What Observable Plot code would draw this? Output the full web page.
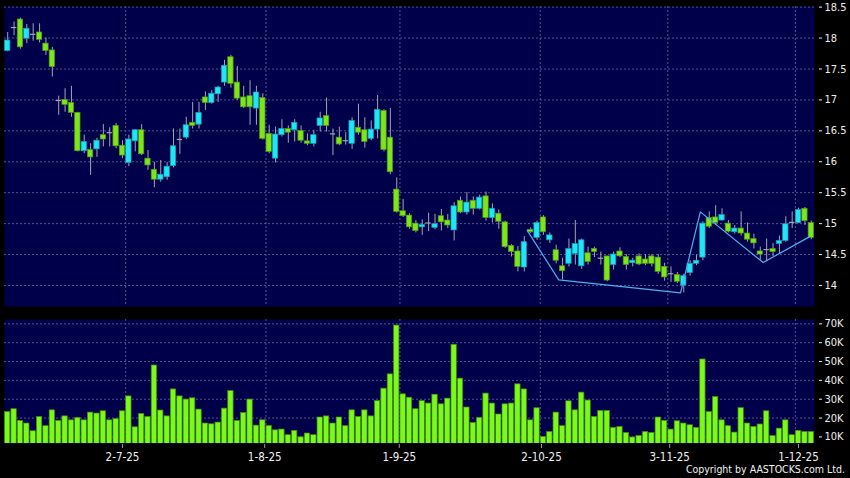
<!DOCTYPE html>
<html><head><meta charset="utf-8">
<script src="https://cdn.jsdelivr.net/npm/d3@7"></script>
<script src="https://cdn.jsdelivr.net/npm/@observablehq/plot@0.6"></script>
<style>
html,body{margin:0;padding:0;background:#000;}
#wrap{position:relative;width:850px;height:478px;background:#000;overflow:hidden;font-family:"DejaVu Sans Condensed","DejaVu Sans",sans-serif;font-stretch:condensed;}
#price{position:absolute;left:0;top:0;}
#vol{position:absolute;left:0;top:312px;}
#copy{position:absolute;right:5px;top:463px;color:#f0f0f0;font-size:10.5px;white-space:nowrap;}
</style></head><body>
<div id="wrap"><div id="price"></div><div id="vol"></div><div id="copy">Copyright by AASTOCKS.com Ltd.</div></div>
<script>
// Daily OHLC (HKD), one entry per trading day, oldest first
const open  = [17.79,18.17,18.30,17.99,18.06,18.09,17.91,17.80,16.99,17.00,16.95,16.79,16.17,16.19,16.20,16.43,16.47,16.58,16.26,15.98,
16.33,16.51,16.05,15.87,15.71,15.75,15.93,16.36,16.39,16.63,16.60,17.04,16.95,17.09,17.28,17.69,17.28,17.04,17.06,16.86,
17.03,16.45,16.05,16.43,16.53,16.51,16.50,16.33,16.29,16.58,16.74,16.45,16.39,16.34,16.29,16.55,16.51,16.37,16.52,16.82,
16.39,15.55,15.20,15.13,15.00,14.94,15.01,14.93,15.12,15.05,14.89,15.37,15.18,15.37,15.24,15.44,15.09,15.16,15.02,14.64,
14.55,14.29,14.90,14.77,15.10,14.73,14.57,14.31,14.35,14.51,14.31,14.52,14.59,14.44,14.47,14.33,14.55,14.46,14.36,14.47,
14.42,14.47,14.45,14.30,14.19,14.17,14.00,14.20,14.35,14.45,15.09,15.10,15.05,15.00,14.86,14.92,14.84,14.75,14.55,14.58,
14.59,14.67,14.72,15.02,15.01,15.24,15.01];
const high  = [18.09,18.26,18.32,18.22,18.23,18.23,18.00,17.85,17.06,17.18,17.22,16.80,16.43,16.29,16.38,16.60,16.55,16.62,16.34,16.43,
16.52,16.60,16.18,15.99,16.02,15.99,16.53,16.53,16.72,16.96,16.96,17.13,17.15,17.22,17.64,17.72,17.54,17.22,17.31,17.22,
17.10,16.59,16.56,16.68,16.58,16.68,16.58,16.45,16.51,16.80,17.03,16.53,16.56,16.47,16.71,16.93,16.71,16.66,17.07,16.84,
16.86,15.74,15.39,15.16,15.05,15.06,15.17,15.15,15.23,15.15,15.34,15.43,15.50,15.43,15.46,15.51,15.32,15.22,15.04,14.66,
14.63,14.79,14.93,15.04,15.13,14.85,14.65,14.44,14.75,15.05,14.75,14.62,14.62,14.54,14.47,14.54,14.61,14.50,14.44,14.51,
14.50,14.50,14.50,14.36,14.30,14.21,14.18,14.40,14.49,15.03,15.19,15.29,15.24,15.05,14.97,15.19,15.01,14.83,14.62,14.75,
14.68,14.80,15.11,15.19,15.25,15.26,15.04];
const low   = [17.78,18.04,17.82,17.91,17.95,17.92,17.72,17.37,16.75,16.80,16.72,16.16,16.13,15.78,16.07,16.24,16.24,16.21,16.05,15.92,
16.16,16.10,15.86,15.58,15.67,15.70,15.90,16.12,16.36,16.53,16.53,16.83,16.93,16.96,17.22,17.19,16.99,16.86,16.59,16.59,
16.35,16.13,15.98,16.40,16.30,16.32,16.30,16.26,16.24,16.48,16.48,16.10,16.26,16.27,16.20,16.43,16.22,16.34,16.37,16.16,
15.79,15.17,15.10,14.91,14.85,14.81,14.87,14.90,14.88,14.92,14.72,15.16,15.14,15.14,15.22,15.04,15.01,14.91,14.60,14.46,
14.22,14.22,14.84,14.73,14.81,14.68,14.35,14.09,14.30,14.33,14.26,14.33,14.45,14.33,14.06,14.25,14.45,14.25,14.30,14.32,
14.32,14.30,14.18,14.07,14.05,14.03,13.88,14.15,14.32,14.40,14.92,14.97,15.04,14.85,14.83,14.80,14.70,14.59,14.41,14.38,
14.47,14.51,14.70,14.92,15.00,14.97,14.74];
const close = [17.96,18.17,17.85,18.15,18.06,17.97,17.79,17.53,16.99,16.92,16.79,16.17,16.32,16.07,16.34,16.36,16.47,16.25,16.10,16.36,
16.51,16.12,15.94,15.71,15.79,15.92,16.25,16.36,16.59,16.58,16.79,16.95,17.10,17.20,17.55,17.26,17.02,16.88,16.88,17.12,
16.37,16.16,16.44,16.53,16.47,16.63,16.34,16.29,16.43,16.70,16.58,16.45,16.28,16.34,16.66,16.47,16.32,16.52,16.84,16.19,
15.83,15.19,15.12,14.94,14.88,14.98,15.01,14.99,15.02,14.97,15.28,15.18,15.34,15.24,15.42,15.09,15.24,15.03,14.62,14.54,
14.30,14.70,14.86,15.01,14.86,14.81,14.40,14.23,14.59,14.67,14.73,14.38,14.54,14.44,14.08,14.50,14.47,14.33,14.40,14.34,
14.35,14.35,14.22,14.13,14.19,14.06,14.15,14.35,14.40,15.00,14.95,15.01,15.14,14.87,14.92,14.84,14.74,14.68,14.50,14.58,
14.54,14.72,14.99,15.02,15.22,15.04,14.77];
// Daily volume, thousands of shares
const volumeK = [23.2,24.7,18.5,17.1,13.0,20.6,15.7,24.1,18.5,20.9,18.8,20.1,18.8,22.9,22.4,23.6,18.8,19.5,23.6,31.5,
15.1,22.2,20.6,47.9,24.0,20.9,35.2,31.5,29.8,30.5,24.5,17.1,16.7,17.6,25.0,34.3,18.5,22.7,29.8,16.0,
18.8,15.8,13.5,13.9,10.9,13.2,9.8,11.8,10.9,20.3,20.9,17.1,20.3,15.7,24.1,20.6,24.1,20.9,29.0,35.6,
43.2,69.1,32.6,30.8,24.7,29.0,27.7,32.4,27.3,30.3,58.9,40.9,25.6,17.4,20.1,33.0,27.7,21.9,27.3,27.7,
37.9,35.2,18.8,25.2,10.0,12.6,22.9,15.7,28.9,24.1,33.5,29.3,20.6,23.8,23.8,14.8,15.3,12.1,9.7,10.5,
12.6,12.1,20.3,18.5,13.9,18.3,17.1,16.2,14.8,51.1,23.2,31.2,18.8,15.7,12.3,25.3,17.1,15.3,16.6,23.6,
10.5,14.4,18.8,10.9,13.2,12.6,12.6];
// Date axis: position (trading-day index) of each label, and of the month grid lines
const tickIdx = [18, 40.3, 61.4, 83.7, 103.8, 124];
const tickLabels = ["2-7-25", "1-8-25", "1-9-25", "2-10-25", "3-11-25", "1-12-25"];
const gridIdx = [18.5, 40.5, 61.5, 83.5, 103.5, 123.5];
// Price and volume axis ticks
const priceTicks = [14, 14.5, 15, 15.5, 16, 16.5, 17, 17.5, 18, 18.5];
const volTicks = [10, 20, 30, 40, 50, 60, 70];
// Pattern line drawn on the chart (trading-day position, price)
const patIdx = [81.45, 86.4, 105.5, 108.6, 118.45, 125.75];
const patPrice = [14.89, 14.09, 13.88, 15.19, 14.37, 14.79];

const N = close.length;
const candles = d3.range(N).map(i => ({i, o: open[i], h: high[i], l: low[i], c: close[i]}));
const bodies = candles.filter(d => d.o !== d.c);
const dojis = candles.filter(d => d.o === d.c);
const vols = volumeK.map((v, i) => ({i, v}));
const pattern = patIdx.map((x, k) => ({x, y: patPrice[k]}));

const NAVY = "#00004a", GRID = "#54548c", UP = "#22e4f6", DOWN = "#7fe41e", WICK = "#a4a4b4";
const HW = 0.42;
const xDomain = [-0.5, N - 0.5];
const tf = d => tickLabels[tickIdx.indexOf(d)];
const FONT = "'DejaVu Sans Condensed','DejaVu Sans',sans-serif";

const price = Plot.plot({
  width: 850, height: 312,
  marginTop: 6, marginBottom: 6, marginLeft: 4, marginRight: 36,
  style: {background: "transparent", fontFamily: FONT, fontSize: "11px", overflow: "visible"},
  x: {domain: xDomain, axis: null},
  y: {domain: [13.66, 18.51], axis: null},
  marks: [
    Plot.frame({fill: NAVY, stroke: null}),
    Plot.ruleY(priceTicks, {stroke: GRID, strokeDasharray: "2,2", strokeWidth: 1}),
    Plot.ruleX(gridIdx, {stroke: GRID, strokeDasharray: "2,2", strokeWidth: 1}),
    Plot.ruleX(candles, {x: "i", y1: "l", y2: "h", stroke: WICK, strokeWidth: 1}),
    Plot.rect(bodies, {x1: d => d.i - HW, x2: d => d.i + HW, y1: "o", y2: "c",
      fill: d => d.c > d.o ? UP : DOWN,
      stroke: d => d.c > d.o ? "#0f9fb0" : "#4a9a10", strokeWidth: 0.7}),
    Plot.ruleY(dojis, {y: "o", x1: d => d.i - HW, x2: d => d.i + HW, stroke: WICK, strokeWidth: 1.2}),
    Plot.line(pattern, {x: "x", y: "y", stroke: "#4fb0ee", strokeWidth: 1.2}),
    Plot.axisY({anchor: "right", ticks: priceTicks, label: null, tickSize: 3, tickPadding: 3, dx: 4,
      color: "#eeeeee", tickFormat: d => String(d)})
  ]
});
document.getElementById("price").appendChild(price);

const vol = Plot.plot({
  width: 850, height: 166,
  marginTop: 7, marginBottom: 35, marginLeft: 4, marginRight: 36,
  style: {background: "transparent", fontFamily: FONT, fontSize: "11px", overflow: "visible"},
  x: {domain: xDomain, axis: null},
  y: {domain: [6.5, 72.3], axis: null},
  marks: [
    Plot.frame({fill: NAVY, stroke: null}),
    Plot.ruleY(volTicks, {stroke: GRID, strokeDasharray: "2,2", strokeWidth: 1}),
    Plot.ruleX(gridIdx, {stroke: GRID, strokeDasharray: "2,2", strokeWidth: 1}),
    Plot.rect(vols, {x1: d => d.i - HW, x2: d => d.i + HW, y1: 0, y2: "v", fill: "#7cf81a", stroke: "#3c8c10", strokeWidth: 0.7, clip: true}),
    Plot.axisY({anchor: "right", ticks: volTicks, label: null, tickSize: 3, tickPadding: 3, dx: 4,
      color: "#eeeeee", tickFormat: d => d + "K"}),
    Plot.axisX({ticks: tickIdx, tickFormat: tf, label: null, tickSize: 4, tickPadding: 4, dy: 1, stroke: "#999999", fill: "#f2f2f2",
      fontFamily: "'DejaVu Sans',sans-serif", fontSize: 11.5})
  ]
});
document.getElementById("vol").appendChild(vol);
</script>
</body></html>
